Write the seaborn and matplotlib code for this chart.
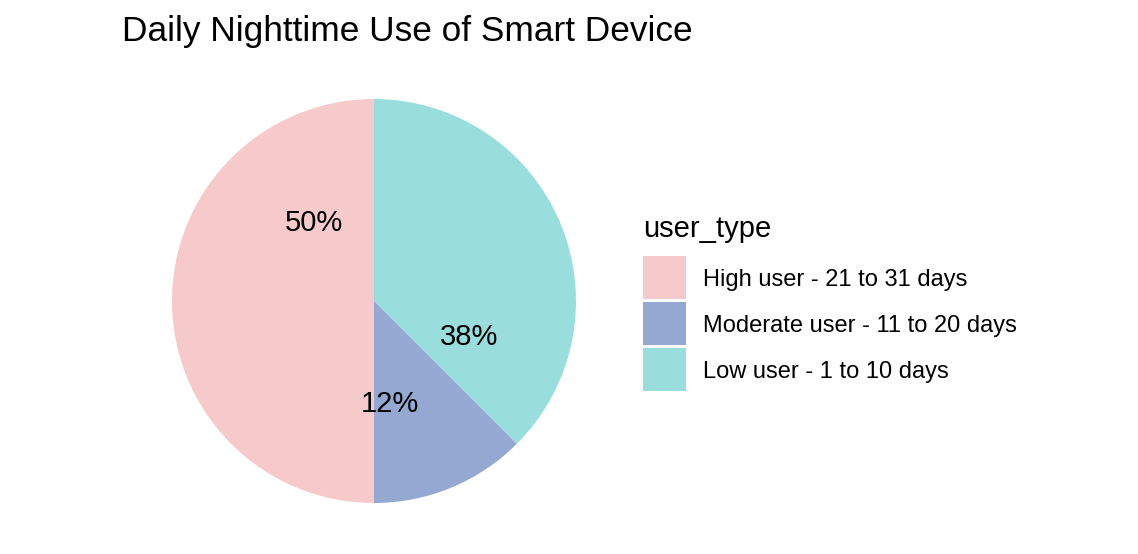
import numpy as np
import matplotlib
matplotlib.use("Agg")
import matplotlib.pyplot as plt
from matplotlib.patches import Rectangle
import seaborn as sns

# Data (drawing order: clockwise from 12 o'clock)
user_types = ["Low user - 1 to 10 days", "Moderate user - 11 to 20 days", "High user - 21 to 31 days"]
user_counts = [9, 3, 12]
pct_labels = ["38%", "12%", "50%"]
colors = ["#99DEDD", "#94A8D2", "#F6C9CA"]
# label positions as fraction of the circle, clockwise from top (as in the reference)
label_turns = [0.303, 0.475, 0.898]
legend_order = [2, 1, 0]

sns.set_theme(style="white")
plt.rcParams["font.family"] = ["Liberation Sans", "DejaVu Sans"]

W, H = 1138, 554
fig = plt.figure(figsize=(W / 100, H / 100), dpi=100)
cx, cy, r = 374, 301, 202
ax = fig.add_axes([(cx - r) / W, (H - cy - r) / H, 2 * r / W, 2 * r / H])
ax.pie(user_counts, colors=colors, startangle=90, counterclock=False, radius=1,
       wedgeprops=dict(linewidth=0))
ax.set_xlim(-1, 1)
ax.set_ylim(-1, 1)
ax.set_aspect("equal")
ax.axis("off")

for lab, t in zip(pct_labels, label_turns):
    ang = np.pi / 2 - 2 * np.pi * t
    ax.text(0.5 * np.cos(ang), 0.5 * np.sin(ang) - 0.015, lab, ha="center", va="center",
            fontsize=21, color="black")

fig.text(122 / W, 1 - 32 / H, "Daily Nighttime Use of Smart Device", fontsize=25.4,
         ha="left", va="center", color="black")

# Legend (ggplot-style, drawn in figure pixel coordinates)
def fx(px):
    return px / W

def fy(py):
    return 1 - py / H

fig.text(fx(643), fy(229), "user_type", fontsize=21, ha="left", va="center", color="black")
key_x, key_top, key_size, key_step = 643, 256, 42.5, 46
for row, i in enumerate(legend_order):
    top = key_top + row * key_step
    fig.patches.append(Rectangle((fx(key_x), fy(top + key_size)), key_size / W, key_size / H,
                                 transform=fig.transFigure, facecolor=colors[i],
                                 edgecolor="none", figure=fig))
    fig.text(fx(703), fy(top + key_size / 2 + 2.5), user_types[i], fontsize=17,
             ha="left", va="center", color="black")

fig.savefig("out.png", dpi=100, facecolor="white")
